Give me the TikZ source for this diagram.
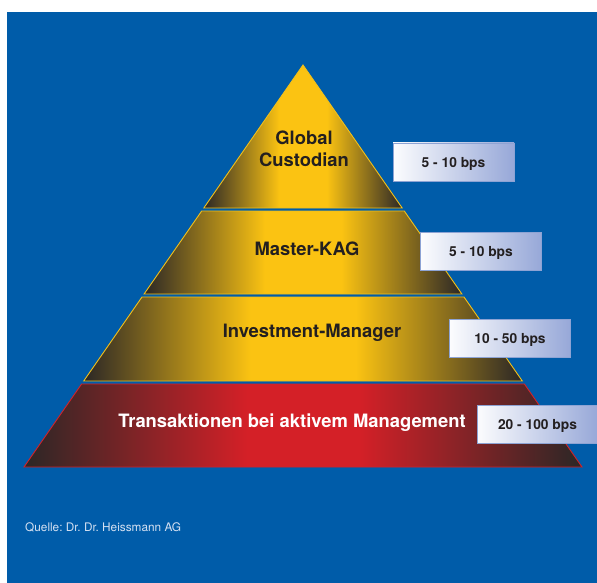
\documentclass[tikz,border=0pt]{standalone}
\usepackage{fontspec}
\setmainfont{TeX Gyre Heros}
\usepackage{tikz}

\definecolor{bgblue}{HTML}{005CA9}
\definecolor{banddark}{HTML}{2B2726}
\definecolor{bandgold}{HTML}{FBC312}
\definecolor{bandred}{HTML}{D42027}
\definecolor{goldline}{HTML}{F2C01A}
\definecolor{redline}{HTML}{D2232A}
\definecolor{boxblue}{HTML}{97A8D8}
\definecolor{boxline}{HTML}{8DA3D4}
\definecolor{textdark}{HTML}{231F20}
\definecolor{sourcetext}{HTML}{D5E1F2}

% dark at the sides, flat in the middle
\pgfdeclarehorizontalshading{goldfade}{100bp}{color(0bp)=(banddark); color(25bp)=(banddark);
  color(44bp)=(bandgold); color(56bp)=(bandgold); color(75bp)=(banddark); color(100bp)=(banddark)}
\pgfdeclarehorizontalshading{redfade}{100bp}{color(0bp)=(banddark); color(25bp)=(banddark);
  color(45bp)=(bandred); color(55bp)=(bandred); color(75bp)=(banddark); color(100bp)=(banddark)}

\frenchspacing

\begin{document}
\begin{tikzpicture}
  [
    x=1pt, y=-1pt,
    Gold/.style={shading=goldfade, draw=goldline, line width=0.9pt},
    Red/.style={shading=redfade, draw=redline, line width=0.9pt},
    Tier/.style={font=\fontsize{18.4}{22}\selectfont\bfseries, text=textdark, align=center, inner sep=0pt},
    Fee/.style={rectangle, draw=boxline, line width=0.9pt, left color=white!97!boxblue, right color=boxblue,
      minimum width=121pt, minimum height=38pt, inner sep=0pt, text depth=0pt,
      font=\fontsize{13.8}{16}\selectfont\bfseries, text=textdark},
    Source/.style={font=\fontsize{11.8}{14}\selectfont, text=sourcetext, inner sep=0pt}
  ]
  \useasboundingbox (0,0) rectangle (597,583);
  % Background
  \fill[bgblue] (7,12) rectangle (597,583);
  % Pyramid corners
  \coordinate (apex) at (303,65);
  \coordinate (b1l) at (203.8,208); \coordinate (b1r) at (402.2,208);
  \coordinate (t2l) at (201.7,211); \coordinate (t2r) at (404.3,211);
  \coordinate (b2l) at (144.1,294); \coordinate (b2r) at (461.9,294);
  \coordinate (t3l) at (142,297);   \coordinate (t3r) at (464,297);
  \coordinate (b3l) at (83.7,381);  \coordinate (b3r) at (522.3,381);
  \coordinate (t4l) at (81.6,384);  \coordinate (t4r) at (524.4,384);
  \coordinate (b4l) at (24,467);    \coordinate (b4r) at (582,467);
  % Bands
  \path[Gold] (apex) -- (b1r) -- (b1l) -- cycle;
  \path[Gold] (t2l) -- (t2r) -- (b2r) -- (b2l) -- cycle;
  \path[Gold] (t3l) -- (t3r) -- (b3r) -- (b3l) -- cycle;
  \path[Red] (t4l) -- (t4r) -- (b4r) -- (b4l) -- cycle;
  % Tier labels
  \node[Tier] (custodian) at (304,148.5) {Global\\Custodian};
  \node[Tier, anchor=base] (masterkag) at (307,255) {Master-KAG};
  \node[Tier, anchor=base] (manager) at (312,337) {Investment-Manager};
  \node[Tier, anchor=base, text=white] (transactions) at (292,427) {Transaktionen bei aktivem Management};
  % Fee boxes
  \node[Fee] (fee1) at (453.5,162) {5 - 10 bps};
  \node[Fee] (fee2) at (481,251.5) {5 - 10 bps};
  \node[Fee] (fee3) at (510,338) {10 - 50 bps};
  \node[Fee] (fee4) at (537.5,424) {20 - 100 bps};
  % Source
  \node[Source, anchor=base west] (source) at (25,531) {Quelle: Dr. Dr. Heissmann AG};
\end{tikzpicture}
\end{document}
